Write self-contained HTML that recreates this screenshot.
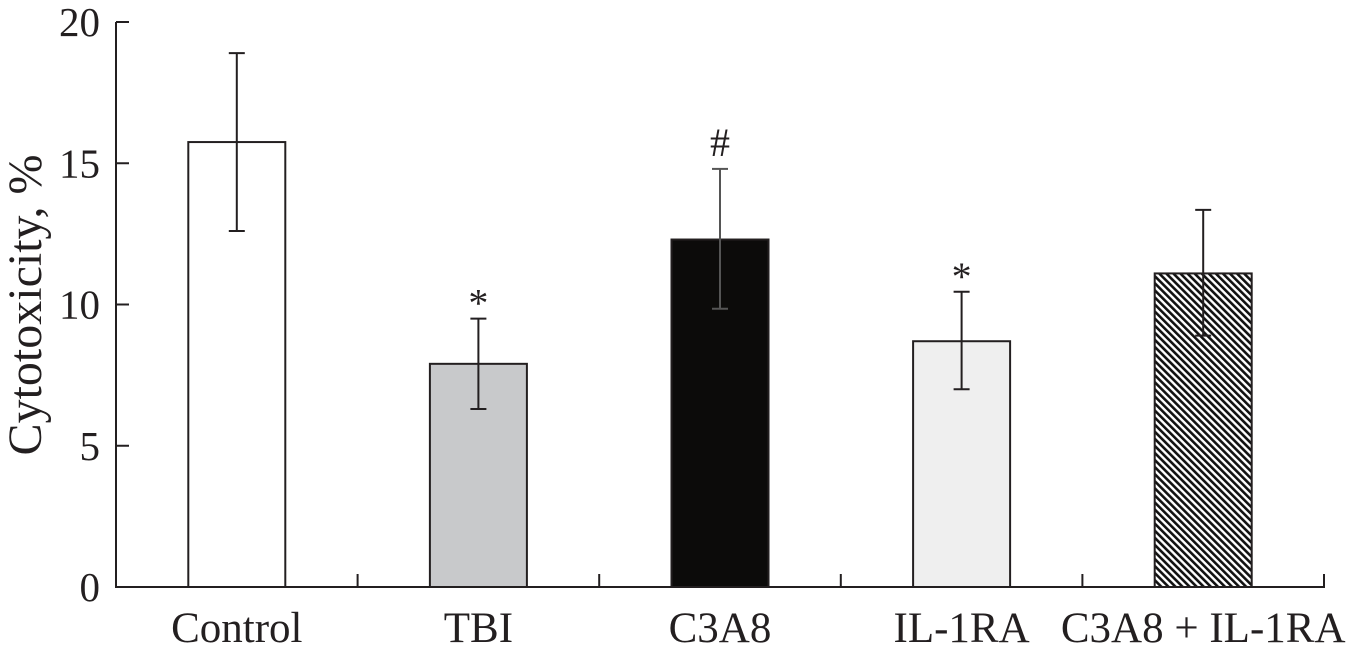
<!DOCTYPE html>
<html><head><meta charset="utf-8"><style>
html,body{margin:0;padding:0;background:#fff;width:1352px;height:654px;overflow:hidden}
svg text{font-family:"Liberation Serif",serif;fill:#231f20}
</style></head><body>
<svg id="chart" width="1352" height="654" viewBox="0 0 1352 654" xmlns="http://www.w3.org/2000/svg">
<defs>
<pattern id="hatch" patternUnits="userSpaceOnUse" width="5" height="5" patternTransform="rotate(-45)">
<rect width="5" height="5" fill="#fff"/>
<rect x="0" y="0" width="2.6" height="5" fill="#111"/>
</pattern>
</defs>
<g id="axes"></g>
<g id="bars"></g>
<text transform="translate(41,305) rotate(-90)" text-anchor="middle" font-size="48">Cytotoxicity, %</text>
</svg>
<script>
const categories = ["Control","TBI","C3A8","IL-1RA","C3A8 + IL-1RA"];
const values = [15.75, 7.9, 12.3, 8.7, 11.1];
const errLow = [12.6, 6.3, 9.85, 7.0, 8.9];
const errHigh = [18.9, 9.5, 14.8, 10.45, 13.35];
const marks = ["", "*", "#", "*", ""];
const yTicks = [0, 5, 10, 15, 20];
const fills = ["#ffffff", "#c8c9cb", "#0c0b0a", "#efefef", "url(#hatch)"];

const NS = "http://www.w3.org/2000/svg";
const x0 = 116, x1 = 1324, yBase = 587, yTop = 22, yMax = 20;
const band = (x1 - x0) / categories.length;
const barW = 97;
const yScale = v => yBase - (v / yMax) * (yBase - yTop);
const xCenter = i => x0 + band * (i + 0.5);
function mk(tag, attrs, parent) {
  const el = document.createElementNS(NS, tag);
  for (const k in attrs) el.setAttribute(k, attrs[k]);
  parent.appendChild(el);
  return el;
}
const axes = document.getElementById("axes");
const bars = document.getElementById("bars");
const st = "#231f20";

const yAxis = mk("line", {x1: x0, y1: yTop, x2: x0, y2: yBase, stroke: st, "stroke-width": 2}, axes);


const xAxis = mk("line", {x1: x0 - 1, y1: yBase, x2: x1 + 1, y2: yBase, stroke: st, "stroke-width": 2}, axes);



yTicks.forEach(t => {
  const y = yScale(t);
  const tk = mk("line", {x1: x0, y1: y, x2: x0 + 13, y2: y, stroke: st, "stroke-width": 2}, axes);
  
  
  const lb = mk("text", {x: 100, y: y + 14, "text-anchor": "end", "font-size": 41}, axes);
  lb.textContent = t;
  
  
});

for (let i = 1; i <= categories.length; i++) {
  const x = x0 + band * i;
  const tk = mk("line", {x1: x, y1: yBase, x2: x, y2: yBase - 13, stroke: st, "stroke-width": 2}, axes);
  
  
}

categories.forEach((c, i) => {
  const cx = xCenter(i);
  const top = yScale(values[i]);
  const r = mk("rect", {x: cx - barW / 2, y: top, width: barW, height: yBase - top, fill: fills[i], stroke: st, "stroke-width": 2}, bars);
  
  
  const eh = yScale(errHigh[i]), el = yScale(errLow[i]);
  const g = mk("g", {stroke: i === 2 ? "#555" : st, "stroke-width": 2}, bars);
  
  
  mk("line", {x1: cx, y1: eh, x2: cx, y2: el}, g);
  mk("line", {x1: cx - 8, y1: eh, x2: cx + 8, y2: eh}, g);
  mk("line", {x1: cx - 8, y1: el, x2: cx + 8, y2: el}, g);
  if (marks[i]) {
    const m = mk("text", {x: cx, y: eh - (marks[i] === "*" ? 2 : 13), "text-anchor": "middle", "font-size": 40}, bars);
    m.textContent = marks[i];
    
    
  }
  const lb = mk("text", {x: cx, y: 642, "text-anchor": "middle", "font-size": 43}, axes);
  lb.textContent = c;
  
  
});
</script>
</body></html>
